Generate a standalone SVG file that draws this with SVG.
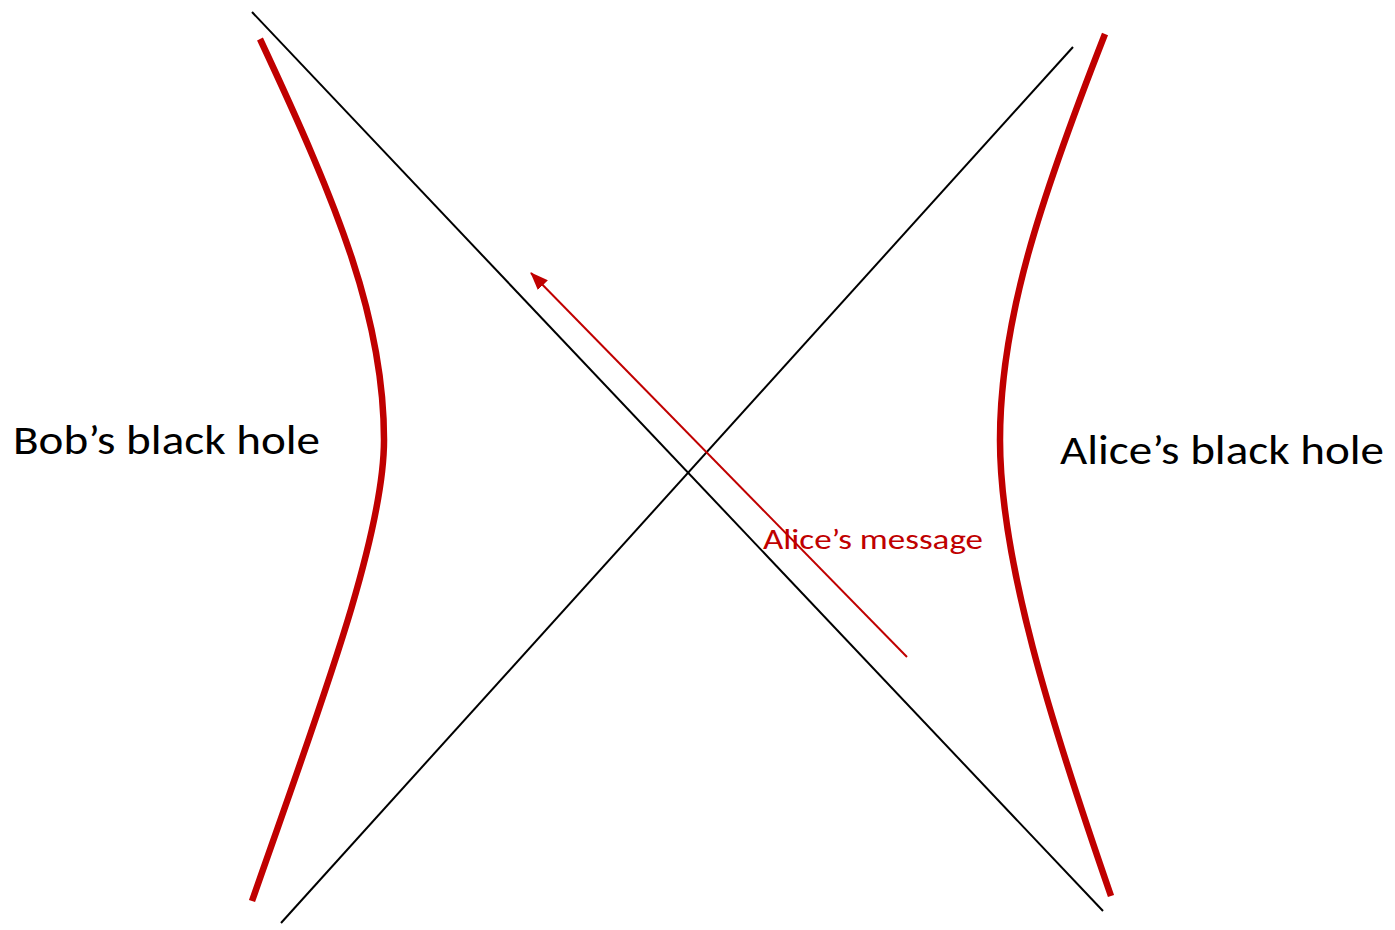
<svg xmlns="http://www.w3.org/2000/svg" width="1395" height="930" viewBox="0 0 1395 930">
<style>
.axis{stroke:#000;stroke-width:2;fill:none}
.hor{stroke:#C00000;stroke-width:6.5;fill:none}
.lbl{font-family:"Carlito","Liberation Sans",sans-serif;fill:#000}
.msg{font-family:"Carlito","Liberation Sans",sans-serif;fill:#C00000}
</style>
<defs>
<marker id="ah" markerWidth="18" markerHeight="14" refX="17" refY="7" orient="auto" markerUnits="userSpaceOnUse" viewBox="0 0 18 14">
<path d="M0,0 L18,7 L0,14 z" fill="#C00000"/>
</marker>
</defs>
<rect width="1395" height="930" fill="#fff"/>
<g id="connectors">
<line class="axis" x1="252" y1="12" x2="1103" y2="911"/>
<line class="axis" x1="1073" y1="47" x2="281" y2="923"/>
<line x1="907" y1="657" x2="531" y2="273" stroke="#C00000" stroke-width="2" marker-end="url(#ah)"/>
</g>
<g id="bob-horizon"><path class="hor" d="M260,39 C340,210 384,320 384,440 C384,540 315,720 252,901"/></g>
<g id="alice-horizon"><path class="hor" d="M1105,34 C1040,200 1000,320 1000,440 C1000,560 1050,720 1111,896"/></g>
<g id="bob-label"><text class="lbl" x="13" y="454" font-size="42" textLength="307" lengthAdjust="spacingAndGlyphs">Bob’s black hole</text></g>
<g id="alice-label"><text class="lbl" x="1060" y="464" font-size="42" textLength="324" lengthAdjust="spacingAndGlyphs">Alice’s black hole</text></g>
<g id="message-label"><text class="msg" x="763" y="549" font-size="29" textLength="220" lengthAdjust="spacingAndGlyphs">Alice’s message</text></g>
</svg>
